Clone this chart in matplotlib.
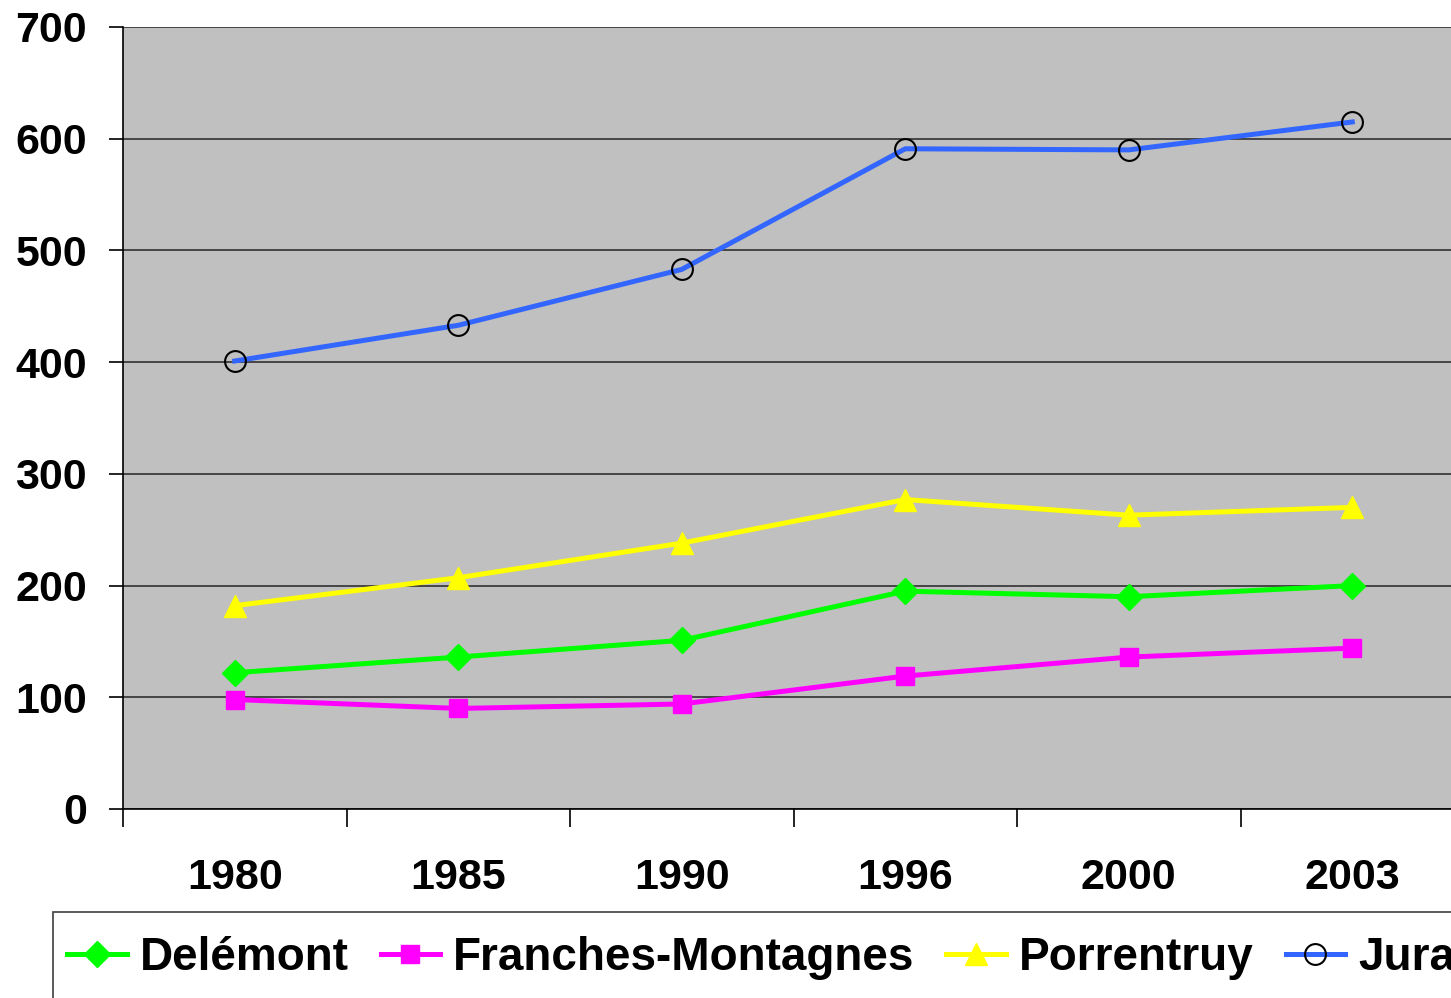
import matplotlib.pyplot as plt
from matplotlib.patches import Rectangle
import numpy as np

# data
years = ['1980', '1985', '1990', '1996', '2000', '2003']
delemont = [122, 136, 151, 195, 190, 200]
franches = [98, 90, 94, 119, 136, 144]
porrentruy = [182, 207, 238, 277, 263, 270]
jura = [401, 433, 483, 591, 590, 615]

plt.rcParams['font.family'] = ['Liberation Sans', 'DejaVu Sans']
plt.rcParams['font.weight'] = 'bold'

W, H = 1451, 998
fig = plt.figure(figsize=(W / 100, H / 100), dpi=100, facecolor='white')
ax = fig.add_axes([123 / W, 1 - 809 / H, (1464 - 123) / W, (809 - 27) / H])
ax.set_facecolor('#c0c0c0')

x = np.arange(len(years)) + 0.5

ax.plot(x, delemont, color='#00ff00', lw=3.6, marker='D', ms=13,
        mfc='#00ff00', mec='#00ff00', label='Delémont', zorder=3)
ax.plot(x, franches, color='#ff00ff', lw=3.6, marker='s', ms=13,
        mfc='#ff00ff', mec='#ff00ff', label='Franches-Montagnes', zorder=3)
ax.plot(x, porrentruy, color='#ffff00', lw=3.6, marker='^', ms=16,
        mfc='#ffff00', mec='#ffff00', label='Porrentruy', zorder=3)
ax.plot(x, jura, color='#3366ff', lw=3.6, marker='o', ms=15,
        mfc='none', mec='black', mew=1.5, label='Jura', zorder=3)

ax.set_xlim(0, len(years))
ax.set_ylim(0, 700)
ax.set_yticks(np.arange(0, 701, 100))
ax.grid(axis='y', color='#303030', lw=1.2, zorder=1)
ax.set_axisbelow(True)

# boundary ticks, labels centred between them
ax.set_xticks(np.arange(len(years) + 1))
ax.set_xticklabels([])
ax.set_xticks(x, minor=True)
ax.set_xticklabels(years, minor=True, fontsize=31, fontweight='bold')
ax.tick_params(axis='x', which='major', length=13, width=1.2, direction='out')
ax.tick_params(axis='x', which='minor', length=0, pad=35)
ax.tick_params(axis='y', length=10, width=1.2, pad=16, labelsize=31)

for s in ['top', 'right']:
    ax.spines[s].set_visible(False)
for s in ['left', 'bottom']:
    ax.spines[s].set_color('black')
    ax.spines[s].set_linewidth(1.2)

# legend frame, running off the right and bottom edges
fig.patches.append(Rectangle((53 / W, -0.01), 1.0, 1 - 912 / H + 0.01,
                             transform=fig.transFigure, fill=False,
                             edgecolor='#404040', lw=1.2))
leg = fig.legend(loc='center left', bbox_to_anchor=(67 / W, 1 - 958 / H),
                 ncol=4, frameon=False, borderaxespad=0, borderpad=0,
                 handlelength=1.3, handletextpad=0.28, columnspacing=0.7,
                 prop={'size': 33, 'weight': 'bold'})

plt.savefig('out.png', dpi=100)
